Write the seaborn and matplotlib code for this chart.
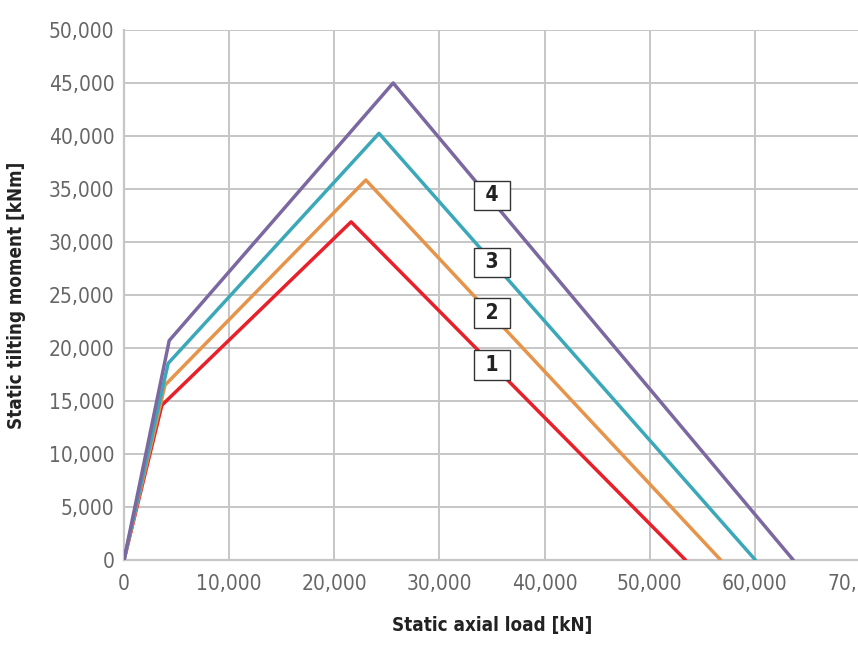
import matplotlib
matplotlib.use('Agg')
import matplotlib.pyplot as plt
import seaborn as sns
import pandas as pd

# curve vertices: start, knee, peak, end
curve_names = ['1', '2', '3', '4']
axial_1 = [0, 3600, 21600, 53400]
moment_1 = [0, 14600, 31900, 0]
axial_2 = [0, 3900, 23000, 56750]
moment_2 = [0, 16500, 35850, 0]
axial_3 = [0, 4200, 24250, 60050]
moment_3 = [0, 18550, 40250, 0]
axial_4 = [0, 4300, 25600, 63650]
moment_4 = [0, 20700, 45000, 0]

label_x = [35000, 35000, 35000, 35000]
label_y = [18400, 23300, 28100, 34400]

x_ticks = [0, 10000, 20000, 30000, 40000, 50000, 60000, 70000]
y_ticks = [0, 5000, 10000, 15000, 20000, 25000, 30000, 35000, 40000, 45000, 50000]

rows = []
for name, xs, ys in zip(curve_names,
                        [axial_1, axial_2, axial_3, axial_4],
                        [moment_1, moment_2, moment_3, moment_4]):
    for i, (a, m) in enumerate(zip(xs, ys)):
        rows.append({'curve': name, 'order': i, 'axial': a, 'moment': m})
df = pd.DataFrame(rows)

sns.set_style('white')
plt.rcParams['font.family'] = ['DejaVu Sans']
plt.rcParams['font.stretch'] = 'condensed'

palette = {'1': '#e8202a', '2': '#e6944a', '3': '#3aa8b8', '4': '#7b68a0'}

fig = plt.figure(figsize=(8.58, 6.54), dpi=100)
ax = fig.add_axes([124 / 858, (654 - 560) / 654, (860 - 124) / 858, (560 - 30) / 654])

sns.lineplot(data=df, x='axial', y='moment', hue='curve', units='curve', estimator=None,
             sort=False, palette=palette, linewidth=2.5, legend=False, ax=ax, zorder=3)

ax.set_xlim(0, 70000)
ax.set_ylim(0, 50000)
ax.set_xticks(x_ticks)
ax.set_yticks(y_ticks)
ax.set_xticklabels([f'{v:,}' for v in x_ticks])
ax.set_yticklabels([f'{v:,}' for v in y_ticks])
ax.tick_params(axis='both', length=0, labelsize=15, labelcolor='#666666', pad=7)
ax.tick_params(axis='x', pad=10)
for t in ax.get_xticklabels() + ax.get_yticklabels():
    t.set_fontweight('light')

ax.grid(True, color='#c6c6c6', linewidth=1.4)
ax.set_axisbelow(True)
for s in ['top', 'right']:
    ax.spines[s].set_visible(False)
for s in ['left', 'bottom']:
    ax.spines[s].set_color('#c6c6c6')
    ax.spines[s].set_linewidth(1.6)

for name, lx, ly in zip(curve_names, label_x, label_y):
    ax.text(lx, ly, f' {name} ', ha='center', va='center', fontsize=15, fontweight='bold',
            color='#222222', zorder=5,
            bbox=dict(boxstyle='square,pad=0.22', facecolor='white', edgecolor='#333333',
                      linewidth=1.0))

ax.set_xlabel('Static axial load [kN]', fontsize=13.5, fontweight='bold', color='#222222', labelpad=16)
ax.set_ylabel('Static tilting moment [kNm]', fontsize=13.5, fontweight='bold', color='#222222', labelpad=16)

fig.savefig('out.png', dpi=100)
